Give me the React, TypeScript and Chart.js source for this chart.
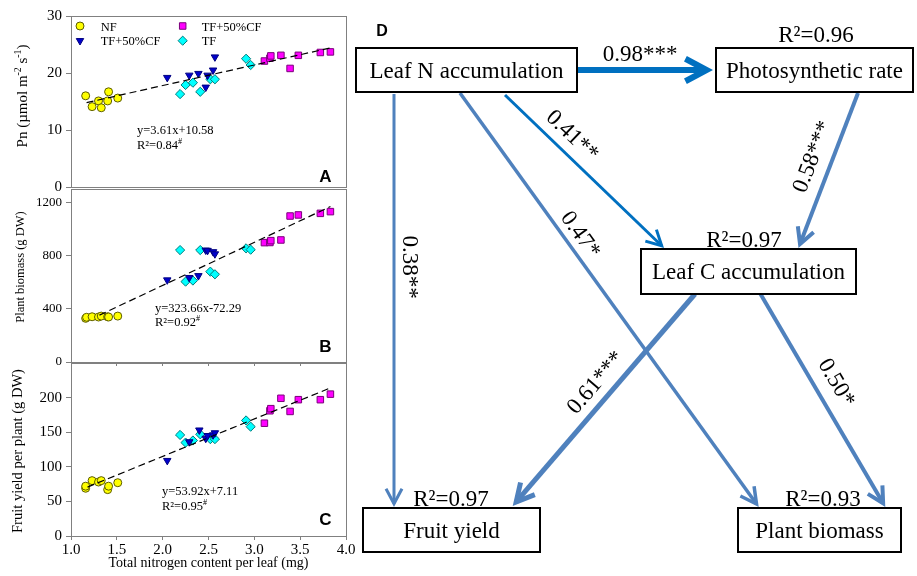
import React, { useEffect, useRef } from 'react';
import { Chart, registerables } from 'chart.js';
import { drawPoint } from 'chart.js/helpers';

Chart.register(...registerables);

const SERIF = '"Liberation Serif", "Times New Roman", serif';
const SANS = '"Liberation Sans", Arial, sans-serif';

// ---------------- DATA ----------------
const SERIES_NAMES = ['NF', 'TF+50%CF', 'TF+50%CF', 'TF'];
const X_MIN = 1.0;
const X_MAX = 4.0;
const X_TICKS = [1.0, 1.5, 2.0, 2.5, 3.0, 3.5, 4.0];
const X_TITLE = 'Total nitrogen content per leaf (mg)';

// Panel A: Pn
const NF_PN = [[1.16, 16.0], [1.23, 14.1], [1.30, 15.1], [1.33, 13.9], [1.40, 15.1], [1.41, 16.7], [1.51, 15.6]];
const TRI_PN = [[2.05, 19.2], [2.29, 19.6], [2.39, 19.9], [2.47, 17.5], [2.49, 19.6], [2.55, 20.5], [2.57, 22.8]];
const SQ_PN = [[3.11, 22.1], [3.17, 22.6], [3.18, 23.0], [3.29, 23.1], [3.39, 20.8], [3.48, 23.1], [3.72, 23.6], [3.83, 23.7]];
const DIA_PN = [[2.19, 16.3], [2.25, 17.9], [2.33, 18.3], [2.41, 16.7], [2.52, 18.9], [2.57, 18.9], [2.91, 22.5], [2.96, 21.4]];
const TREND_PN = [[1.17, 14.8], [3.83, 24.4]];
const Y_TICKS_PN = [0, 10, 20, 30];

// Panel B: plant biomass
const NF_BIO = [[1.16, 328], [1.17, 336], [1.23, 340], [1.30, 338], [1.33, 345], [1.40, 340], [1.41, 338], [1.51, 345]];
const TRI_BIO = [[2.05, 616], [2.29, 634], [2.39, 648], [2.47, 840], [2.49, 838], [2.55, 828], [2.57, 812]];
const SQ_BIO = [[3.11, 897], [3.17, 898], [3.18, 912], [3.29, 917], [3.39, 1097], [3.48, 1105], [3.72, 1117], [3.83, 1130]];
const DIA_BIO = [[2.19, 841], [2.25, 604], [2.33, 612], [2.41, 841], [2.52, 679], [2.57, 659], [2.91, 854], [2.96, 844]];
const TREND_BIO = [[1.31, 352], [3.83, 1168]];
const Y_TICKS_BIO = [0, 400, 800, 1200];

// Panel C: fruit yield
const NF_FRUIT = [[1.16, 69], [1.16, 72], [1.23, 80], [1.30, 78], [1.33, 80], [1.40, 67], [1.41, 72], [1.51, 77]];
const TRI_FRUIT = [[2.05, 109], [2.29, 136], [2.40, 153], [2.47, 141], [2.49, 145], [2.55, 146], [2.57, 149]];
const SQ_FRUIT = [[3.11, 163], [3.17, 181], [3.18, 184], [3.29, 199], [3.39, 180], [3.48, 197], [3.72, 197], [3.83, 205]];
const DIA_FRUIT = [[2.19, 146], [2.25, 135], [2.33, 138], [2.41, 147], [2.52, 140], [2.57, 140], [2.91, 167], [2.96, 158]];
const TREND_FRUIT = [[1.18, 70.7], [3.83, 214]];
const Y_TICKS_FRUIT = [0, 50, 100, 150, 200];

const EQUATIONS = ['y=3.61x+10.58', 'y=323.66x-72.29', 'y=53.92x+7.11'];
const EQ_R2 = ['0.84', '0.92', '0.95'];
const PANEL_LETTERS = ['A', 'B', 'C'];
const Y_MAX = [30, 1300, 250];

// Path diagram
const NODE_NAMES = ['Leaf N accumulation', 'Photosynthetic rate', 'Leaf C accumulation', 'Fruit yield', 'Plant biomass'];
const NODE_R2 = ['', '0.96', '0.97', '0.97', '0.93'];
const PATH_FROM = [0, 0, 0, 0, 1, 2, 2];
const PATH_TO = [1, 2, 3, 4, 2, 3, 4];
const PATH_COEF = ['0.98***', '0.41**', '0.38**', '0.47*', '0.58***', '0.61***', '0.50*'];

// ---------------- LAYOUT / STYLE ----------------
const NF_SERIES = [NF_PN, NF_BIO, NF_FRUIT];
const TRI_SERIES = [TRI_PN, TRI_BIO, TRI_FRUIT];
const SQ_SERIES = [SQ_PN, SQ_BIO, SQ_FRUIT];
const DIA_SERIES = [DIA_PN, DIA_BIO, DIA_FRUIT];
const TRENDS = [TREND_PN, TREND_BIO, TREND_FRUIT];
const Y_TICKS = [Y_TICKS_PN, Y_TICKS_BIO, Y_TICKS_FRUIT];

const SERIES_STYLE = [
  { pointStyle: 'circle', radius: 4, rotation: 0, bg: '#FFFF00', border: '#5c5c00' },
  { pointStyle: 'triangle', radius: 4.3, rotation: 180, bg: '#0000CC', border: '#000080' },
  { pointStyle: 'rect', radius: 4.6, rotation: 0, bg: '#FF00FF', border: '#7a007a' },
  { pointStyle: 'rectRot', radius: 4.6, rotation: 0, bg: '#00FFFF', border: '#007b7b' },
];

const CANVAS_W = 360;
const AREA_LEFT = 71;
const AREA_RIGHT = 346;
const PANEL_TOP = [0, 177, 350];
const PANEL_H = [200, 197, 226];
const AREA_TOP = [16, 189, 362];
const AREA_BOTTOM = [189, 362, 536];
const YTICK_SIZE = [15, 13, 15];
const YTITLE_SIZE = [15, 12.5, 14.5];
const YTITLE_POS = [[26.5, 96], [23.5, 267], [22, 451]];
const EQ_POS = [[137, 130.7], [155, 308.3], [162, 491.7]];
const LETTER_POS = [[325.5, 176], [325.5, 346], [325.5, 519]];
const LEGEND_POS = [[80, 26], [80, 40.7], [182.7, 26], [182.7, 40.7]];
const LEGEND_TEXT_X = [100.7, 100.7, 201.7, 201.7];
const FRAME_COLOR = '#808080';

const Y_TITLES = [
  [{ t: 'Pn (\u00b5mol m' }, { t: '-2', sup: true }, { t: ' s' }, { t: '-1', sup: true }, { t: ')' }],
  [{ t: 'Plant biomass (g DW)' }],
  [{ t: 'Fruit yield per plant (g DW)' }],
];

const DIAG_LEFT = 350;
const NODE_BOX = [[356, 48, 577, 92], [716, 48, 913, 92], [641, 249, 856, 294], [363, 508, 540, 552], [738, 508, 901, 552]];
const NODE_R2_POS = [null, [816, 42], [744, 247], [451, 506], [823, 506]];
const PATH_LINE = [
  [578, 70, 713, 70],
  [505, 95, 664, 248],
  [394, 94, 394, 507],
  [460, 93, 758.7, 507],
  [858, 93, 798.5, 248],
  [695, 294, 512.7, 506],
  [760.5, 294, 885.3, 507],
];
const PATH_WIDTH = [6, 3, 3, 3.5, 4, 5, 4];
const PATH_HEAD = [24, 17, 17, 18, 18, 20, 18];
const PATH_COLOR = ['#0070C0', '#0070C0', '#4F81BD', '#4F81BD', '#4F81BD', '#4F81BD', '#4F81BD'];
const PATH_LABEL_POS = [[640, 55], [572, 136], [409, 267], [580, 235], [813, 157], [596, 383], [836, 383]];
const DIAG_FONT = 23;

type Seg = { t: string; sup?: boolean };

function drawRich(ctx: CanvasRenderingContext2D, segs: Seg[], size: number, family: string, x: number, y: number, align: 'left' | 'center', rot = 0) {
  ctx.save();
  ctx.translate(x, y);
  ctx.rotate(rot);
  ctx.textBaseline = 'alphabetic';
  ctx.textAlign = 'left';
  const supSize = size * 0.65;
  const widths = segs.map((s) => {
    ctx.font = `${s.sup ? supSize : size}px ${family}`;
    return ctx.measureText(s.t).width;
  });
  const total = widths.reduce((a, b) => a + b, 0);
  let cx = align === 'center' ? -total / 2 : 0;
  segs.forEach((s, i) => {
    ctx.font = `${s.sup ? supSize : size}px ${family}`;
    ctx.fillText(s.t, cx, s.sup ? -size * 0.4 : 0);
    cx += widths[i];
  });
  ctx.restore();
}

function makePanel(canvas: HTMLCanvasElement, i: number) {
  const top = PANEL_TOP[i];
  const seriesData = [NF_SERIES[i], TRI_SERIES[i], SQ_SERIES[i], DIA_SERIES[i]];
  const datasets: any[] = seriesData.map((d, k) => ({
    type: 'scatter',
    label: SERIES_NAMES[k],
    data: d.map(([x, y]) => ({ x, y })),
    pointStyle: SERIES_STYLE[k].pointStyle,
    pointRadius: SERIES_STYLE[k].radius,
    pointRotation: SERIES_STYLE[k].rotation,
    backgroundColor: SERIES_STYLE[k].bg,
    borderColor: SERIES_STYLE[k].border,
    borderWidth: 1,
    order: 1,
  }));
  datasets.push({
    type: 'line',
    label: 'trend',
    data: TRENDS[i].map(([x, y]) => ({ x, y })),
    showLine: true,
    borderColor: '#000',
    borderWidth: 1.2,
    borderDash: [7, 4],
    pointRadius: 0,
    fill: false,
    order: 0,
  });
  const isBottom = i === 2;
  const decor = {
    id: 'decor' + i,
    afterDraw(chart: any) {
      const ctx: CanvasRenderingContext2D = chart.ctx;
      const a = chart.chartArea;
      ctx.save();
      ctx.strokeStyle = FRAME_COLOR;
      ctx.lineWidth = 1;
      ctx.strokeRect(Math.round(a.left) + 0.5, Math.round(a.top) + 0.5, Math.round(a.right - a.left), Math.round(a.bottom - a.top));
      ctx.fillStyle = '#000';
      drawRich(ctx, Y_TITLES[i], YTITLE_SIZE[i], SERIF, YTITLE_POS[i][0], YTITLE_POS[i][1] - top, 'center', -Math.PI / 2);
      const eqSize = 12.5;
      drawRich(ctx, [{ t: EQUATIONS[i] }], eqSize, SERIF, EQ_POS[i][0], EQ_POS[i][1] - top + 3.5, 'left');
      drawRich(ctx, [{ t: 'R\u00b2=' + EQ_R2[i] }, { t: '#', sup: true }], eqSize, SERIF, EQ_POS[i][0], EQ_POS[i][1] - top + 3.5 + 14.5, 'left');
      ctx.font = `bold 17px ${SANS}`;
      ctx.textAlign = 'center';
      ctx.textBaseline = 'alphabetic';
      ctx.fillText(PANEL_LETTERS[i], LETTER_POS[i][0], LETTER_POS[i][1] - top + 6);
      if (i === 0) {
        SERIES_NAMES.forEach((name, k) => {
          const st = SERIES_STYLE[k];
          ctx.fillStyle = st.bg;
          ctx.strokeStyle = st.border;
          ctx.lineWidth = 1;
          drawPoint(ctx, { pointStyle: st.pointStyle as any, radius: st.radius, rotation: st.rotation, borderWidth: 1 }, LEGEND_POS[k][0], LEGEND_POS[k][1] - top);
          ctx.fillStyle = '#000';
          ctx.font = `12.5px ${SERIF}`;
          ctx.textAlign = 'left';
          ctx.textBaseline = 'alphabetic';
          ctx.fillText(name, LEGEND_TEXT_X[k], LEGEND_POS[k][1] - top + 4.5);
        });
      }
      ctx.restore();
    },
  };
  return new Chart(canvas, {
    type: 'scatter',
    data: { datasets },
    options: {
      responsive: false,
      animation: false,
      devicePixelRatio: 1,
      layout: { padding: { left: 0, right: CANVAS_W - AREA_RIGHT, top: AREA_TOP[i] - top, bottom: 0 } },
      plugins: { legend: { display: false }, tooltip: { enabled: false } },
      scales: {
        x: {
          type: 'linear',
          min: X_MIN,
          max: X_MAX,
          ticks: {
            display: isBottom,
            color: '#000',
            padding: 1,
            font: { size: 15, family: SERIF },
            callback: (v: any) => Number(v).toFixed(1),
          },
          grid: { display: i !== 0, drawOnChartArea: false, drawTicks: true, tickLength: 4, color: FRAME_COLOR },
          border: { display: false },
          title: {
            display: isBottom,
            text: X_TITLE,
            color: '#000',
            font: { size: 14, family: SERIF },
            padding: { top: 0, bottom: 4 },
          },
          afterBuildTicks: (s: any) => {
            s.ticks = X_TICKS.map((v) => ({ value: v }));
          },
          afterFit: (s: any) => {
            s.height = top + PANEL_H[i] - AREA_BOTTOM[i];
          },
        },
        y: {
          type: 'linear',
          min: 0,
          max: Y_MAX[i],
          ticks: {
            color: '#000',
            padding: 4,
            font: { size: YTICK_SIZE[i], family: SERIF },
            callback: (v: any) => String(v),
          },
          grid: { drawOnChartArea: false, drawTicks: true, tickLength: 5, color: FRAME_COLOR },
          border: { display: false },
          afterBuildTicks: (s: any) => {
            s.ticks = Y_TICKS[i].map((v) => ({ value: v }));
          },
          afterFit: (s: any) => {
            s.width = AREA_LEFT;
          },
        },
      },
    } as any,
    plugins: [decor],
  });
}

function drawArrow(ctx: CanvasRenderingContext2D, x1: number, y1: number, x2: number, y2: number, width: number, color: string, head: number) {
  const dx = x2 - x1;
  const dy = y2 - y1;
  const len = Math.hypot(dx, dy);
  const ux = dx / len;
  const uy = dy / len;
  const half = (28 * Math.PI) / 180;
  const miter = width / (2 * Math.sin(half));
  const tx = x2 - ux * miter;
  const ty = y2 - uy * miter;
  const ang = Math.atan2(uy, ux);
  ctx.strokeStyle = color;
  ctx.lineWidth = width;
  ctx.lineCap = 'butt';
  ctx.lineJoin = 'miter';
  ctx.miterLimit = 10;
  ctx.beginPath();
  ctx.moveTo(x1, y1);
  ctx.lineTo(tx, ty);
  ctx.stroke();
  ctx.beginPath();
  ctx.moveTo(tx - head * Math.cos(ang - half), ty - head * Math.sin(ang - half));
  ctx.lineTo(tx, ty);
  ctx.lineTo(tx - head * Math.cos(ang + half), ty - head * Math.sin(ang + half));
  ctx.stroke();
}

function makeDiagram(canvas: HTMLCanvasElement) {
  const plugin = {
    id: 'pathDiagram',
    afterDraw(chart: any) {
      const ctx: CanvasRenderingContext2D = chart.ctx;
      ctx.save();
      ctx.translate(-DIAG_LEFT, 0);
      ctx.fillStyle = '#000';
      ctx.font = `bold 16px ${SANS}`;
      ctx.textAlign = 'center';
      ctx.textBaseline = 'alphabetic';
      ctx.fillText('D', 382, 36);
      PATH_COEF.forEach((coef, p) => {
        const [x1, y1, x2, y2] = PATH_LINE[p];
        drawArrow(ctx, x1, y1, x2, y2, PATH_WIDTH[p], PATH_COLOR[p], PATH_HEAD[p]);
      });
      NODE_NAMES.forEach((name, n) => {
        const [bx1, by1, bx2, by2] = NODE_BOX[n];
        ctx.fillStyle = '#fff';
        ctx.fillRect(bx1, by1, bx2 - bx1, by2 - by1);
        ctx.strokeStyle = '#000';
        ctx.lineWidth = 2;
        ctx.strokeRect(bx1, by1, bx2 - bx1, by2 - by1);
        ctx.fillStyle = '#000';
        ctx.font = `${DIAG_FONT}px ${SERIF}`;
        ctx.textAlign = 'center';
        ctx.textBaseline = 'alphabetic';
        ctx.fillText(name, (bx1 + bx2) / 2, (by1 + by2) / 2 + 7.5);
        const rp = NODE_R2_POS[n];
        if (rp && NODE_R2[n]) {
          ctx.fillText('R\u00b2=' + NODE_R2[n], rp[0], rp[1]);
        }
      });
      PATH_COEF.forEach((coef, p) => {
        const [x1, y1, x2, y2] = PATH_LINE[p];
        let ang = Math.atan2(y2 - y1, x2 - x1);
        if (ang > Math.PI / 2 + 1e-6) ang -= Math.PI;
        if (ang < -Math.PI / 2 - 1e-6) ang += Math.PI;
        ctx.save();
        ctx.translate(PATH_LABEL_POS[p][0], PATH_LABEL_POS[p][1]);
        ctx.rotate(ang);
        ctx.fillStyle = '#000';
        ctx.font = `${DIAG_FONT}px ${SERIF}`;
        ctx.textAlign = 'center';
        ctx.textBaseline = 'middle';
        ctx.fillText(coef, 0, 0);
        ctx.restore();
      });
      ctx.restore();
    },
  };
  return new Chart(canvas, {
    type: 'scatter',
    data: { datasets: [] },
    options: {
      responsive: false,
      animation: false,
      devicePixelRatio: 1,
      plugins: { legend: { display: false }, tooltip: { enabled: false } },
      scales: { x: { display: false }, y: { display: false } },
    } as any,
    plugins: [plugin],
  });
}

export default function App() {
  const r0 = useRef<HTMLCanvasElement>(null);
  const r1 = useRef<HTMLCanvasElement>(null);
  const r2 = useRef<HTMLCanvasElement>(null);
  const rD = useRef<HTMLCanvasElement>(null);
  const refs = [r0, r1, r2];

  useEffect(() => {
    document.body.style.margin = '0';
    const charts: Chart[] = [];
    refs.forEach((r, i) => {
      if (r.current) charts.push(makePanel(r.current, i));
    });
    if (rD.current) charts.push(makeDiagram(rD.current));
    return () => charts.forEach((c) => c.destroy());
  }, []);

  return (
    <div style={{ position: 'relative', width: 917, height: 576, background: '#fff', overflow: 'hidden' }}>
      {refs.map((r, i) => (
        <canvas
          key={i}
          ref={r}
          width={CANVAS_W}
          height={PANEL_H[i]}
          style={{ position: 'absolute', left: 0, top: PANEL_TOP[i], width: CANVAS_W, height: PANEL_H[i] }}
        />
      ))}
      <canvas ref={rD} width={917 - DIAG_LEFT} height={576} style={{ position: 'absolute', left: DIAG_LEFT, top: 0, width: 917 - DIAG_LEFT, height: 576 }} />
    </div>
  );
}
